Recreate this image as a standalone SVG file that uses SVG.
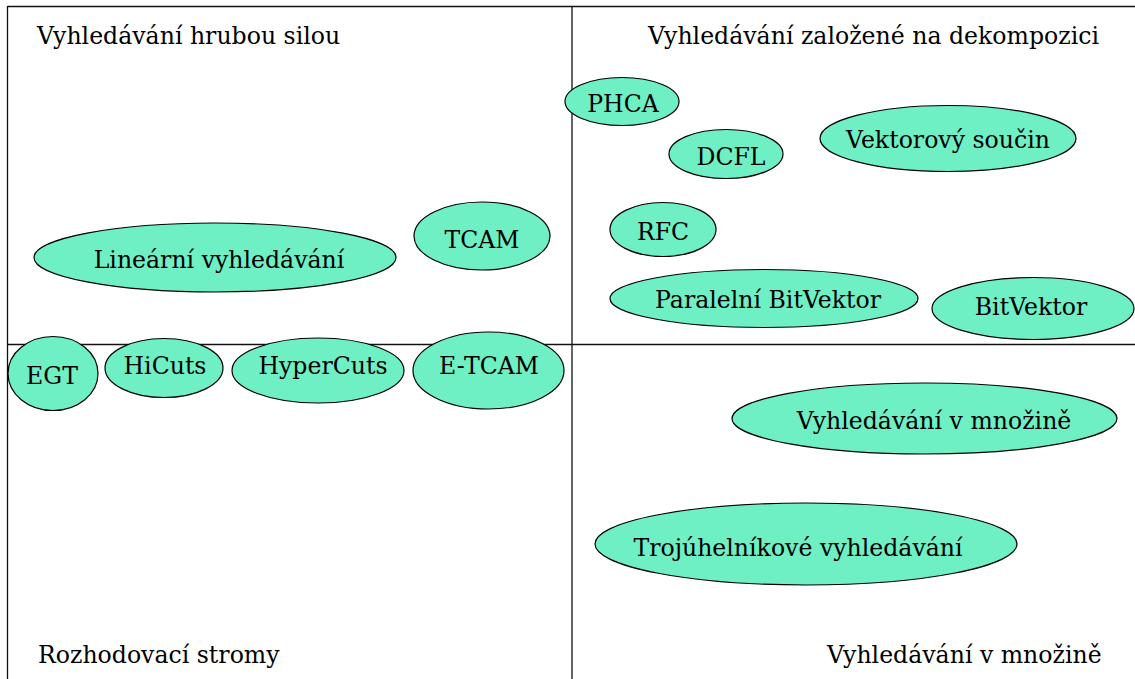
<svg xmlns="http://www.w3.org/2000/svg" width="1135" height="679" viewBox="0 0 1135 679">
<style>
.n ellipse{fill:#6eefc4;stroke:#000;stroke-width:1.2}
text{font-family:"DejaVu Serif",serif;font-size:23.6px;fill:#000}
.n text{text-anchor:middle}
.frame line{stroke:#111;stroke-width:1.3}
</style>
<rect width="1135" height="679" fill="#fff"/>
<g id="frame" class="frame">
<line x1="7.5" y1="6.5" x2="1135" y2="6.5"/>
<line x1="7.5" y1="6" x2="7.5" y2="679"/>
<line x1="572" y1="6" x2="572" y2="679"/>
<line x1="7.5" y1="344.5" x2="1135" y2="344.5"/>
</g>
<g id="quadrant-labels">
<text x="37" y="44">Vyhledávání hrubou silou</text>
<text x="648" y="44">Vyhledávání založené na dekompozici</text>
<text x="38" y="663">Rozhodovací stromy</text>
<text x="827" y="663">Vyhledávání v množině</text>
</g>
<g id="connectors"></g>
<g id="n-linearni" class="n"><ellipse cx="215" cy="257.5" rx="181" ry="34.5"/><text x="219" y="268">Lineární vyhledávání</text></g>
<g id="n-tcam" class="n"><ellipse cx="482" cy="236" rx="68" ry="34"/><text x="482" y="248">TCAM</text></g>
<g id="n-egt" class="n"><ellipse cx="53" cy="373.5" rx="45" ry="37"/><text x="52" y="384">EGT</text></g>
<g id="n-hicuts" class="n"><ellipse cx="164" cy="368" rx="59" ry="29.5"/><text x="165" y="374">HiCuts</text></g>
<g id="n-hypercuts" class="n"><ellipse cx="318" cy="370.5" rx="86" ry="32.5"/><text x="323" y="374">HyperCuts</text></g>
<g id="n-etcam" class="n"><ellipse cx="488.5" cy="370.5" rx="75.5" ry="38.5"/><text x="489" y="374">E-TCAM</text></g>
<g id="n-phca" class="n"><ellipse cx="622" cy="101.5" rx="57" ry="24"/><text x="623" y="112">PHCA</text></g>
<g id="n-dcfl" class="n"><ellipse cx="726" cy="154" rx="57" ry="24.5"/><text x="731" y="165">DCFL</text></g>
<g id="n-vektorovy" class="n"><ellipse cx="948" cy="138.5" rx="128" ry="33"/><text x="948" y="148">Vektorový součin</text></g>
<g id="n-rfc" class="n"><ellipse cx="663" cy="229.5" rx="53" ry="27"/><text x="663" y="240">RFC</text></g>
<g id="n-paralelni" class="n"><ellipse cx="764" cy="298.5" rx="154" ry="29"/><text x="768" y="308">Paralelní BitVektor</text></g>
<g id="n-bitvektor" class="n"><ellipse cx="1033" cy="308.5" rx="101" ry="31"/><text x="1031" y="315">BitVektor</text></g>
<g id="n-mnozine" class="n"><ellipse cx="924.5" cy="418.5" rx="192.5" ry="35.5"/><text x="934" y="429">Vyhledávání v množině</text></g>
<g id="n-trojuhelnikove" class="n"><ellipse cx="806" cy="544" rx="211" ry="41"/><text x="798" y="556">Trojúhelníkové vyhledávání</text></g>
</svg>
